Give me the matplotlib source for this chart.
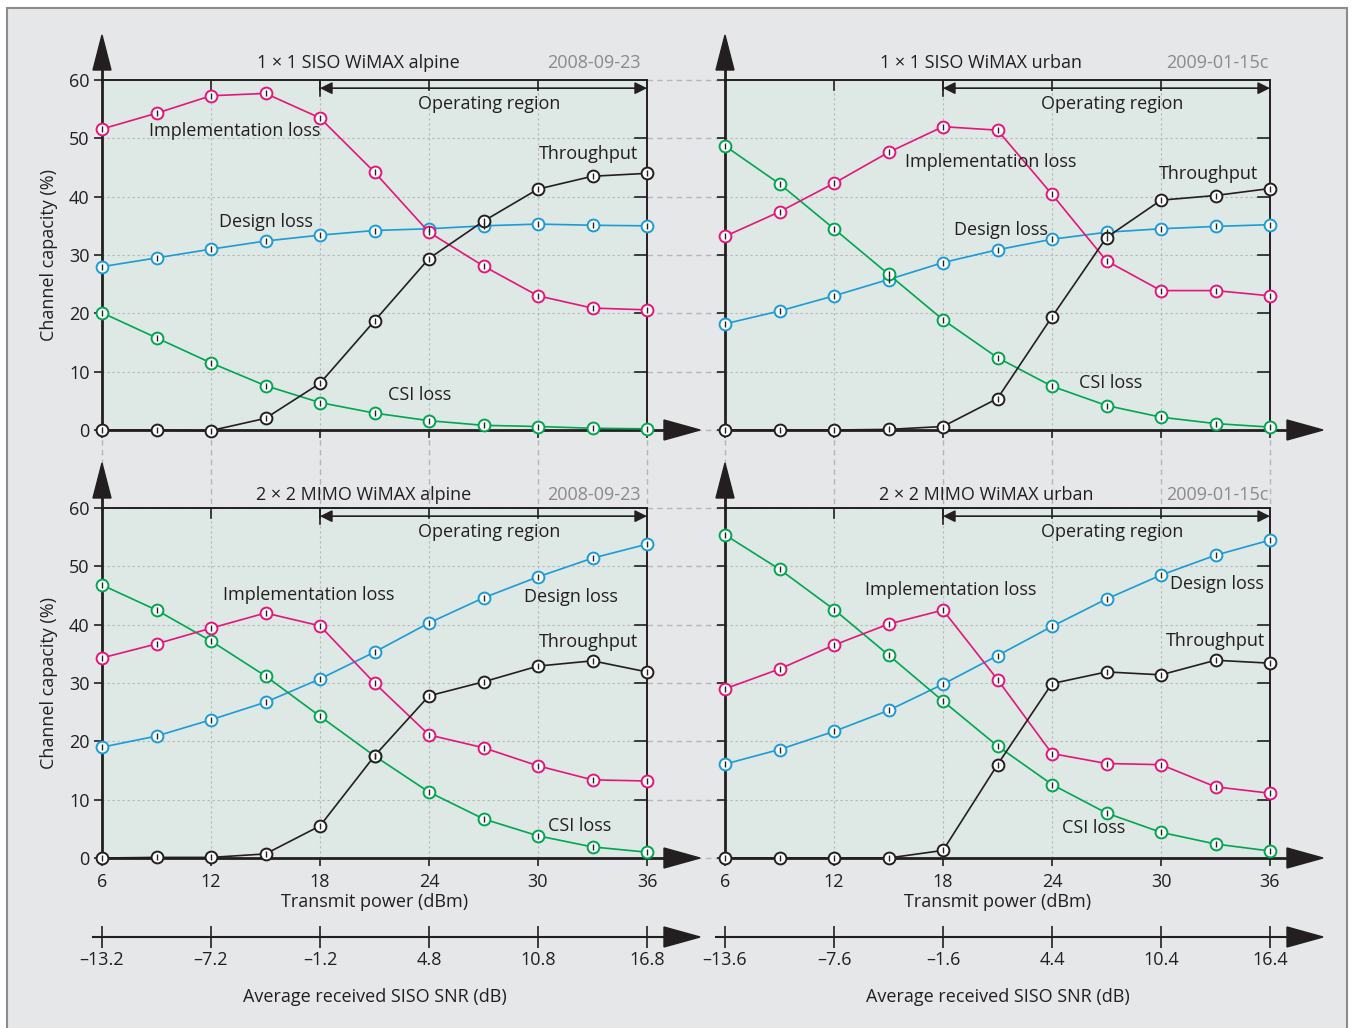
import matplotlib
matplotlib.use('Agg')
import matplotlib.pyplot as plt
from matplotlib.patches import Polygon, Rectangle

plt.rcParams['font.family'] = ['Open Sans', 'DejaVu Sans']

# transmit power (dBm) and SNR tick labels
tx_power = [6, 9, 12, 15, 18, 21, 24, 27, 30, 33, 36]
tick_power = [6, 12, 18, 24, 30, 36]
snr_alpine = ['\u201313.2', '\u20137.2', '\u20131.2', '4.8', '10.8', '16.8']
snr_urban = ['\u201313.6', '\u20137.6', '\u20131.6', '4.4', '10.4', '16.4']

# 1x1 SISO alpine
siso_alp_impl = [51.6, 54.3, 57.3, 57.7, 53.5, 44.2, 33.9, 28.1, 23.0, 20.9, 20.6]
siso_alp_design = [28.0, 29.5, 31.0, 32.4, 33.4, 34.2, 34.5, 35.0, 35.3, 35.1, 35.0]
siso_alp_csi = [20.1, 15.8, 11.5, 7.6, 4.7, 2.9, 1.6, 0.8, 0.6, 0.3, 0.2]
siso_alp_thr = [0.0, 0.0, -0.1, 2.0, 8.0, 18.7, 29.4, 35.8, 41.3, 43.5, 44.0]

# 1x1 SISO urban
siso_urb_impl = [33.2, 37.4, 42.3, 47.6, 52.0, 51.4, 40.4, 29.0, 23.9, 23.9, 23.0]
siso_urb_design = [18.2, 20.4, 23.0, 25.8, 28.7, 30.9, 32.7, 33.9, 34.5, 34.9, 35.2]
siso_urb_csi = [48.7, 42.2, 34.5, 26.7, 18.9, 12.4, 7.5, 4.2, 2.2, 1.1, 0.5]
siso_urb_thr = [0.0, 0.0, 0.0, 0.1, 0.6, 5.4, 19.4, 33.0, 39.4, 40.2, 41.4]

# 2x2 MIMO alpine
mimo_alp_impl = [34.3, 36.7, 39.4, 42.0, 39.8, 30.0, 21.1, 18.9, 15.8, 13.4, 13.2]
mimo_alp_design = [19.0, 20.9, 23.7, 26.7, 30.7, 35.3, 40.3, 44.6, 48.2, 51.4, 53.8]
mimo_alp_csi = [46.8, 42.5, 37.2, 31.2, 24.3, 17.5, 11.3, 6.7, 3.8, 1.9, 1.0]
mimo_alp_thr = [0.0, 0.1, 0.1, 0.7, 5.5, 17.5, 27.8, 30.2, 32.9, 33.8, 31.9]

# 2x2 MIMO urban
mimo_urb_impl = [29.0, 32.4, 36.5, 40.1, 42.5, 30.6, 17.9, 16.2, 16.0, 12.2, 11.1]
mimo_urb_design = [16.1, 18.6, 21.7, 25.3, 29.8, 34.7, 39.7, 44.4, 48.5, 51.9, 54.5]
mimo_urb_csi = [55.4, 49.5, 42.6, 34.8, 26.9, 19.2, 12.6, 7.7, 4.4, 2.4, 1.2]
mimo_urb_thr = [0.0, 0.0, 0.0, 0.0, 1.3, 16.0, 29.9, 31.9, 31.4, 33.9, 33.4]

C_IMPL = '#e5157a'
C_DESIGN = '#1b9bd7'
C_CSI = '#00a650'
C_THR = '#231f20'
DARK = '#231f20'
GRID = '#b4b6b8'
FIG_BG = '#e6e7e8'
AX_BG = '#dee8e4'
FS = 13

W, H = 1356, 1028
fig = plt.figure(figsize=(W / 100, H / 100), dpi=100)
fig.patch.set_facecolor('white')
fig.patches.append(Rectangle((7 / W, -0.01), (1347 - 7) / W, 1.01 - 8 / H,
                             transform=fig.transFigure, facecolor=FIG_BG,
                             edgecolor='#8c8c8c', lw=1.5, zorder=-10))

AXW, AXH = 545, 350


def px_axes(left, top):
    return fig.add_axes([left / W, 1 - (top + AXH) / H, AXW / W, AXH / H])


def tri(ax, pts):
    ax.add_patch(Polygon(pts, closed=True, transform=ax.transAxes,
                         facecolor=DARK, edgecolor=DARK, clip_on=False, zorder=10))


def draw_panel(ax, series, title, date, labels, show_ylabel, show_xlabels):
    ax.set_facecolor(AX_BG)
    ax.set_xlim(6, 36)
    ax.set_ylim(0, 60)
    ax.set_xticks(tick_power)
    ax.set_yticks(range(0, 61, 10))
    ax.grid(True, color=GRID, ls=(0, (2, 2.5)), lw=0.8)
    ax.set_axisbelow(True)
    for s in ax.spines.values():
        s.set_color(DARK)
        s.set_linewidth(1.4)
    ax.spines['left'].set_linewidth(2)
    ax.spines['bottom'].set_linewidth(2)
    ax.tick_params(axis='both', colors=DARK, labelsize=FS, length=6, width=1.2,
                   direction='out')
    ax.tick_params(axis='x', labelbottom=show_xlabels, pad=5)
    ax.tick_params(axis='y', labelleft=show_ylabel, pad=3)
    # inward ticks on top and right
    for y in range(10, 60, 10):
        ax.plot([1, 1 - 12 / AXW], [y / 60, y / 60], transform=ax.transAxes,
                color=DARK, lw=1.2, clip_on=False)
    for x in tick_power[1:-1]:
        ax.plot([(x - 6) / 30] * 2, [1, 1 - 10 / AXH], transform=ax.transAxes,
                color=DARK, lw=1.2, clip_on=False)

    for vals, col in series:
        ax.plot(tx_power, vals, color=col, lw=1.2, marker='o', ms=8.5,
                mfc='white', mec=col, mew=1.4, clip_on=False, zorder=4)
        ax.plot(tx_power, vals, ls='none', marker='|', ms=4.5, mec=DARK,
                mew=1.0, clip_on=False, zorder=5)

    for text, x, y in labels:
        ax.text(x, y, text, ha='center', va='center', fontsize=FS, color=DARK, zorder=6)

    # operating region arrow
    ax.annotate('', xy=(36, 58.6), xytext=(18, 58.6),
                arrowprops=dict(arrowstyle='<|-|>', color=DARK, lw=1.2,
                                mutation_scale=18, shrinkA=0, shrinkB=0))
    ax.plot([18, 18], [57.2, 60], color=DARK, lw=1.2)
    ax.text(27.3, 55.9, 'Operating region', ha='center', va='center',
            fontsize=FS, color=DARK)

    ax.text(title[1], title[2], title[0], ha='center', va='center',
            fontsize=FS, color=DARK, clip_on=False)
    ax.text(33.1, title[2], date, ha='center', va='center', fontsize=FS,
            color='#8a8a8a', clip_on=False)

    # axis arrows
    tri(ax, [(-9 / AXW, 1 + 10 / AXH), (9 / AXW, 1 + 10 / AXH), (0, 1 + 45 / AXH)])
    ax.plot([0, 0], [1, 1 + 12 / AXH], transform=ax.transAxes, color=DARK,
            lw=2, clip_on=False)
    tri(ax, [(1 + 17 / AXW, 10 / AXH), (1 + 17 / AXW, -10 / AXH), (1 + 53 / AXW, 0)])
    ax.plot([1, 1 + 18 / AXW], [0, 0], transform=ax.transAxes, color=DARK,
            lw=2, clip_on=False)

    if show_ylabel:
        ax.set_ylabel('Channel capacity (%)', fontsize=FS, color=DARK, labelpad=8)


def dashed_ext(ax, right=True, down=False):
    # light dashed guide lines outside the plotting area
    if right:
        for y in range(0, 61, 10):
            ax.plot([1, 1 + 78 / AXW], [y / 60, y / 60], transform=ax.transAxes,
                    color=GRID, ls=(0, (4, 3)), lw=1, clip_on=False, zorder=0)
    if down:
        for x in tick_power:
            ax.plot([(x - 6) / 30] * 2, [0, -78 / AXH], transform=ax.transAxes,
                    color=GRID, ls=(0, (4, 3)), lw=1, clip_on=False, zorder=0)


def snr_axis(left, labels):
    sx = fig.add_axes([left / W, 1 - 937 / H, AXW / W, 0.0001])
    sx.set_xlim(6, 36)
    sx.set_ylim(0, 1)
    sx.patch.set_visible(False)
    for s in sx.spines.values():
        s.set_visible(False)
    sx.set_yticks([])
    sx.set_xticks(tick_power)
    sx.set_xticklabels(labels)
    sx.tick_params(axis='x', direction='inout', length=16, width=1.2, colors=DARK,
                   labelsize=FS, pad=2)
    sx.plot([-9 / AXW, 1 + 18 / AXW], [0, 0], transform=sx.transAxes, color=DARK,
            lw=1.5, clip_on=False)
    sx.set_xlabel('Average received SISO SNR (dB)', fontsize=FS, color=DARK,
                  labelpad=14)
    # arrow head in pixel space
    x0 = (left + AXW + 17) / W
    x1 = (left + AXW + 53) / W
    yc = 1 - 937 / H
    fig.patches.append(Polygon([(x0, yc + 10 / H), (x0, yc - 10 / H), (x1, yc)],
                               closed=True, transform=fig.transFigure,
                               facecolor=DARK, edgecolor=DARK, zorder=10))
    return sx


ax_tl = px_axes(102, 80)
ax_tr = px_axes(725, 80)
ax_bl = px_axes(102, 508)
ax_br = px_axes(725, 508)

dashed_ext(ax_tl, right=True, down=True)
dashed_ext(ax_tr, right=False, down=True)
dashed_ext(ax_bl, right=True)

draw_panel(ax_tl,
           [(siso_alp_design, C_DESIGN), (siso_alp_csi, C_CSI),
            (siso_alp_impl, C_IMPL), (siso_alp_thr, C_THR)],
           ('1 \u00d7 1 SISO WiMAX alpine', 20.1, 63.0), '2008-09-23',
           [('Implementation loss', 13.3, 51.3), ('Design loss', 15.0, 35.7),
            ('Throughput', 32.8, 47.3), ('CSI loss', 23.5, 6.0)],
           True, False)
draw_panel(ax_tr,
           [(siso_urb_design, C_DESIGN), (siso_urb_csi, C_CSI),
            (siso_urb_impl, C_IMPL), (siso_urb_thr, C_THR)],
           ('1 \u00d7 1 SISO WiMAX urban', 20.1, 63.0), '2009-01-15c',
           [('Implementation loss', 20.6, 45.9), ('Design loss', 21.2, 34.3),
            ('Throughput', 32.6, 43.9), ('CSI loss', 27.2, 8.1)],
           False, False)
draw_panel(ax_bl,
           [(mimo_alp_design, C_DESIGN), (mimo_alp_csi, C_CSI),
            (mimo_alp_impl, C_IMPL), (mimo_alp_thr, C_THR)],
           ('2 \u00d7 2 MIMO WiMAX alpine', 20.4, 62.2), '2008-09-23',
           [('Implementation loss', 17.4, 45.1), ('Design loss', 31.8, 44.7),
            ('Throughput', 32.8, 37.0), ('CSI loss', 32.3, 5.5)],
           True, True)
draw_panel(ax_br,
           [(mimo_urb_design, C_DESIGN), (mimo_urb_csi, C_CSI),
            (mimo_urb_impl, C_IMPL), (mimo_urb_thr, C_THR)],
           ('2 \u00d7 2 MIMO WiMAX urban', 20.4, 62.2), '2009-01-15c',
           [('Implementation loss', 18.4, 45.9), ('Design loss', 33.1, 47.0),
            ('Throughput', 33.0, 37.2), ('CSI loss', 26.3, 5.1)],
           False, True)

for ax in (ax_bl, ax_br):
    ax.set_xlabel('Transmit power (dBm)', fontsize=FS, color=DARK, labelpad=1)

snr_axis(102, snr_alpine)
snr_axis(725, snr_urban)

fig.savefig('out.png', dpi=100, facecolor=fig.get_facecolor())
